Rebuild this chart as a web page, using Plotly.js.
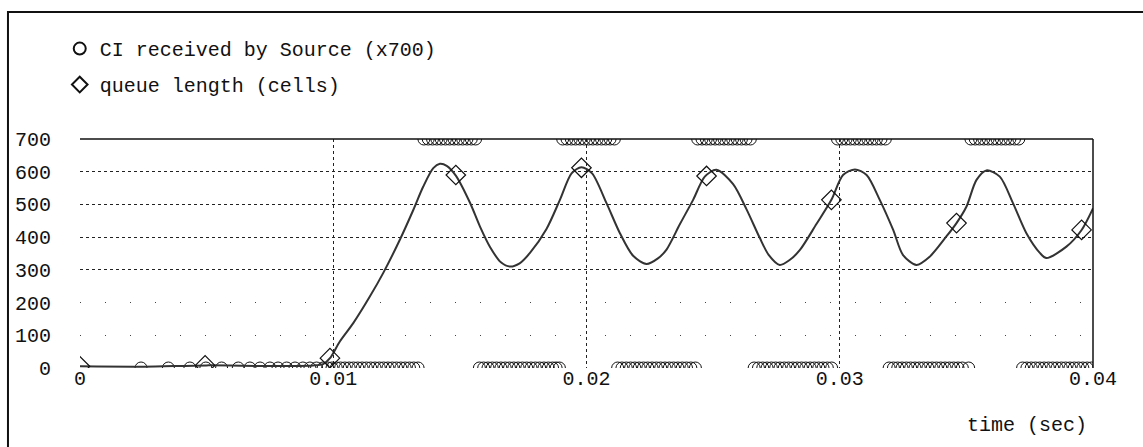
<!DOCTYPE html>
<html>
<head>
<meta charset="utf-8">
<script src="https://cdn.plot.ly/plotly-3.0.1.min.js"></script>
<style>
  html, body { margin: 0; padding: 0; background: #fff; }
  #chart { width: 1143px; height: 447px; }
</style>
</head>
<body>
<div id="chart"></div>
<script>
// ---- data ----
const xTickVals = [0, 0.01, 0.02, 0.03, 0.04];
const xTickText = ['0', '0.01', '0.02', '0.03', '0.04'];
const yTickVals = [0, 100, 200, 300, 400, 500, 600, 700];

// queue length (cells) vs time (sec)
const queueTime = [0, 0.0025, 0.005, 0.0075, 0.0092, 0.0096, 0.00987, 0.01026, 0.01079, 0.01145,
  0.01197, 0.01263, 0.01316, 0.01355, 0.01395, 0.01421, 0.01448, 0.01484, 0.0154, 0.01579,
  0.01619, 0.01662, 0.01698, 0.01736, 0.01776, 0.01842, 0.01895, 0.01941, 0.0198, 0.02022,
  0.02079, 0.02132, 0.02184, 0.02237, 0.02282, 0.02316, 0.02369, 0.02421, 0.02467, 0.02513,
  0.02579, 0.02632, 0.02684, 0.0272, 0.02763, 0.02802, 0.02842, 0.02908, 0.02967, 0.03013,
  0.0306, 0.03106, 0.03158, 0.03211, 0.0325, 0.03303, 0.03355, 0.03421, 0.03461, 0.035,
  0.0354, 0.03579, 0.03632, 0.03684, 0.03737, 0.0379, 0.03816, 0.03895, 0.03955, 0.04];
const queueLen = [5, 4, 8, 6, 8, 12, 30, 81, 137, 219,
  290, 392, 483, 554, 611, 624, 618, 588, 505, 433,
  370, 323, 310, 320, 351, 425, 514, 595, 614, 595,
  504, 412, 343, 318, 335, 362, 440, 514, 585, 606,
  562, 485, 398, 345, 315, 330, 360, 440, 514, 590,
  607, 590, 514, 422, 345, 315, 340, 402, 443, 493,
  575, 604, 585, 504, 412, 352, 336, 371, 422, 488];

// diamond markers on the queue curve
const diamondTime = [0, 0.00494, 0.00987, 0.01484, 0.0198, 0.02474, 0.02967, 0.03461, 0.03955];
const diamondQueue = [5, 8, 30, 590, 612, 587, 514, 443, 422];

// CI received by Source (x700): times when CI = 1 (plotted at 700)
const ciOnTimes = [
  0.01358, 0.01375, 0.01392, 0.01409, 0.01426, 0.01443, 0.0146, 0.01477, 0.01494, 0.01511, 0.01528, 0.01545, 0.01562,
  0.01906, 0.01923, 0.0194, 0.01957, 0.01974, 0.01991, 0.02008, 0.02025, 0.02042, 0.02059, 0.02076, 0.02093, 0.0211,
  0.02439, 0.02456, 0.02473, 0.0249, 0.02508, 0.02525, 0.02543, 0.0256, 0.02577, 0.02595, 0.02612, 0.0263, 0.02647,
  0.02991, 0.03008, 0.03025, 0.03042, 0.03059, 0.03077, 0.03094, 0.03111, 0.03128, 0.03145, 0.03163, 0.0318,
  0.03518, 0.03535, 0.03552, 0.03569, 0.03586, 0.03604, 0.03621, 0.03638, 0.03655, 0.03672, 0.0369, 0.03707];
// times when CI = 0 (plotted at 0)
const ciOffTimes = [
  0.00241, 0.00349, 0.00434, 0.00497, 0.00559, 0.00625, 0.00671, 0.00711, 0.0075, 0.00782,
  0.00816, 0.00849, 0.0088, 0.00908, 0.00934, 0.0096,
  0.00978, 0.00995, 0.01012, 0.01029, 0.01046, 0.01063, 0.0108, 0.01097, 0.01114, 0.01131, 0.01148,
  0.01165, 0.01182, 0.01199, 0.01216, 0.01233, 0.0125, 0.01267, 0.01284, 0.01301, 0.01318, 0.01335,
  0.01577, 0.01594, 0.01611, 0.01628, 0.01645, 0.01662, 0.01679, 0.01696, 0.01713, 0.0173, 0.01747,
  0.01764, 0.01781, 0.01798, 0.01815, 0.01832, 0.01849, 0.01866, 0.0188, 0.01893,
  0.02123, 0.0214, 0.02157, 0.02174, 0.02191, 0.02208, 0.02225, 0.02242, 0.02259, 0.02276, 0.02293,
  0.0231, 0.02327, 0.02344, 0.02361, 0.02378, 0.02395, 0.02412, 0.0243,
  0.02662, 0.02679, 0.02696, 0.02713, 0.0273, 0.02747, 0.02764, 0.02781, 0.02798, 0.02815, 0.02832,
  0.02849, 0.02866, 0.02883, 0.029, 0.02917, 0.02934, 0.02951, 0.02968,
  0.03195, 0.03212, 0.03229, 0.03246, 0.03263, 0.0328, 0.03297, 0.03314, 0.03331, 0.03348, 0.03365,
  0.03382, 0.03399, 0.03416, 0.03433, 0.0345, 0.03467, 0.03484, 0.03509,
  0.03722, 0.03739, 0.03756, 0.03773, 0.0379, 0.03807, 0.03824, 0.03841, 0.03858, 0.03875, 0.03892,
  0.03909, 0.03926, 0.03943, 0.0396, 0.03977, 0.03994];
const ciScale = 700;

// ---- build traces ----
const ciX = ciOffTimes.concat(ciOnTimes);
const ciY = ciOffTimes.map(() => 0).concat(ciOnTimes.map(() => 1 * ciScale));

const FONT = '"Liberation Mono", "Courier New", Courier, monospace';

const traces = [
  {
    x: ciX, y: ciY, type: 'scatter', mode: 'markers',
    name: 'CI received by Source (x700)', legendgroup: 'ci',
    marker: { symbol: 'circle-open', size: 12, color: '#111', line: { width: 1, color: '#111' } },
    cliponaxis: true
  },
  {
    x: queueTime, y: queueLen, type: 'scatter', mode: 'lines',
    line: { color: '#333', width: 2, shape: 'spline', smoothing: 0.8 },
    showlegend: false, legendgroup: 'q'
  },
  {
    x: diamondTime, y: diamondQueue, type: 'scatter', mode: 'markers',
    name: 'queue length (cells)', legendgroup: 'q',
    marker: { symbol: 'diamond-open', size: 15, color: '#111', line: { width: 1.2, color: '#111' } },
    cliponaxis: true
  },
  { // invisible helper so the second y axis (sparse grid) is drawn
    x: [0], y: [0], yaxis: 'y2', type: 'scatter', mode: 'markers',
    marker: { opacity: 0 }, showlegend: false, hoverinfo: 'skip'
  }
];

const layout = {
  width: 1143, height: 447,
  paper_bgcolor: '#fff', plot_bgcolor: '#fff',
  margin: { l: 80, r: 50, t: 139, b: 79, autoexpand: false },
  font: { family: FONT, size: 20, color: '#111' },
  showlegend: true,
  legend: {
    x: -0.02, xanchor: 'left', y: 1.48, yanchor: 'top',
    bgcolor: 'rgba(0,0,0,0)', borderwidth: 0,
    font: { family: FONT, size: 20, color: '#111' },
    tracegroupgap: 7, itemsizing: 'constant'
  },
  xaxis: {
    range: [0, 0.04], tickmode: 'array', tickvals: xTickVals, ticktext: xTickText,
    showgrid: true, griddash: 'dot', gridcolor: '#222', gridwidth: 1,
    zeroline: false, showline: false, ticks: '', ticklabelstandoff: -4,
    tickfont: { family: FONT, size: 20, color: '#111' }
  },
  yaxis: {
    range: [0, 700], tickmode: 'array', tickvals: yTickVals,
    showgrid: false, zeroline: false, showline: false, ticks: '',
    ticklabelstandoff: 28,
    tickfont: { family: FONT, size: 20, color: '#111' },
    minor: { tickmode: 'array', tickvals: [0, 300, 400, 500, 600], showgrid: true,
             griddash: 'dot', gridcolor: '#222', gridwidth: 1, ticks: '' }
  },
  yaxis2: {
    range: [0, 700], overlaying: 'y', side: 'left', tickmode: 'array', tickvals: [100, 200],
    showticklabels: false, showgrid: true, griddash: '1px,24px', gridcolor: '#444', gridwidth: 1,
    zeroline: false, showline: false, ticks: ''
  },
  shapes: [
    { type: 'line', xref: 'paper', yref: 'paper', x0: 0, x1: 1, y0: 1, y1: 1, line: { color: '#111', width: 1.5 } },
    { type: 'line', xref: 'paper', yref: 'paper', x0: 1, x1: 1, y0: 0, y1: 1, line: { color: '#111', width: 1.5 } },
    { type: 'rect', xref: 'paper', yref: 'paper', x0: -0.0711, x1: 1.2, y0: -0.6, y1: 1.5546,
      line: { color: '#111', width: 2 }, fillcolor: 'rgba(0,0,0,0)' }
  ],
  annotations: [
    { text: 'time (sec)', xref: 'paper', yref: 'paper', x: 1, xanchor: 'right', xshift: -4,
      y: -0.253, yanchor: 'middle', showarrow: false, font: { family: FONT, size: 20, color: '#111' } }
  ]
};

Plotly.newPlot('chart', traces, layout, { displayModeBar: false, staticPlot: true });
</script>
</body>
</html>
